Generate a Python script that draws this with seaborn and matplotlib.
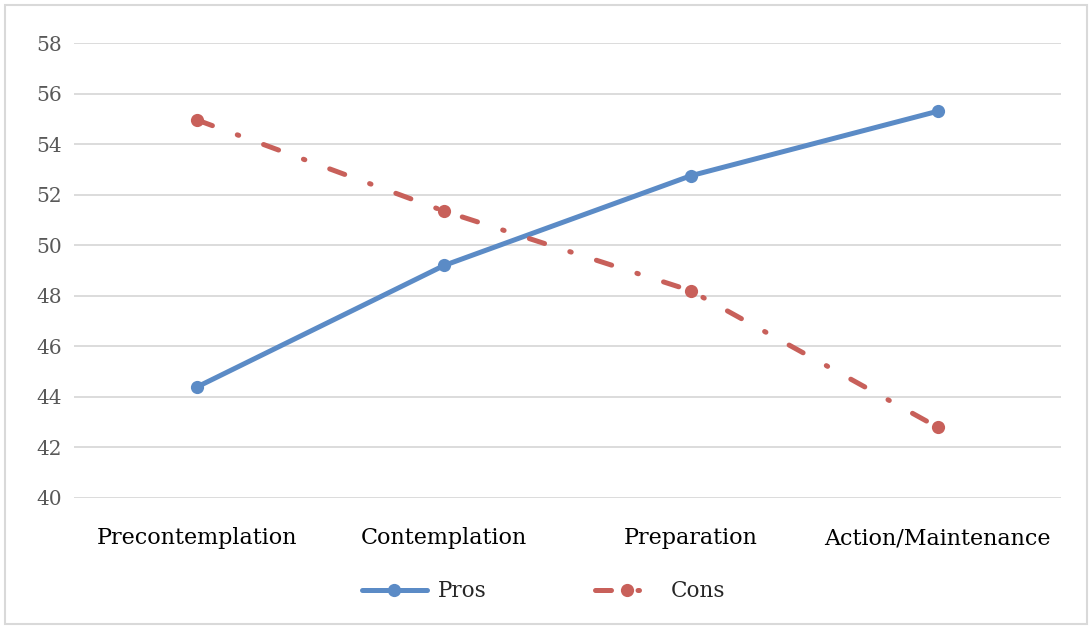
import pandas as pd
import matplotlib.pyplot as plt
import seaborn as sns
from matplotlib.patches import Rectangle
from matplotlib.lines import Line2D

# Stages of change and mean scores
stages = ["Precontemplation", "Contemplation", "Preparation", "Action/Maintenance"]
pros = [44.4, 49.2, 52.75, 55.3]
cons = [54.95, 51.35, 48.2, 42.8]

df = pd.DataFrame({
    "stage": stages * 2,
    "score": pros + cons,
    "series": ["Pros"] * 4 + ["Cons"] * 4,
})

sns.set_theme(style="white")
plt.rcParams["font.family"] = ["DejaVu Serif"]

fig = plt.figure(figsize=(10.92, 6.29), dpi=100)
ax = fig.add_axes([0.0678, 0.2083, 0.9038, 0.7233])

blue = "#5B8BC6"
red = "#C8605A"
cons_dash = (3.2, 5.3, 0.3, 5.3)

sns.lineplot(data=df, x="stage", y="score", hue="series", style="series",
             palette={"Pros": blue, "Cons": red},
             dashes={"Pros": "", "Cons": cons_dash},
             markers={"Pros": "o", "Cons": "o"},
             markersize=9.5, markeredgewidth=0, linewidth=3.6,
             ax=ax, legend=False)
for ln in ax.lines:
    ln.set_dash_capstyle("round")
    ln.set_solid_capstyle("round")

ax.set_ylim(40, 58)
ax.set_yticks(range(40, 59, 2))
ax.set_xlim(-0.5, 3.5)
ax.set_xlabel("")
ax.set_ylabel("")
ax.grid(axis="y", color="#d9d9d9", linewidth=1.3)
ax.grid(axis="x", visible=False)
for s in ax.spines.values():
    s.set_visible(False)
ax.tick_params(axis="y", labelsize=14.5, labelcolor="#595959", pad=9, length=0)
ax.tick_params(axis="x", labelsize=16, labelcolor="black", pad=21, length=0)

# legend
handles = [
    Line2D([], [], color=blue, linewidth=3.6, marker="o", markersize=9.5, markeredgewidth=0,
           solid_capstyle="round"),
    Line2D([], [], color=red, linewidth=3.6, marker="o", markersize=9.5, markeredgewidth=0,
           dashes=cons_dash, dash_capstyle="round"),
]
fig.legend(handles, ["Pros", "Cons"], loc="center", bbox_to_anchor=(0.498, 0.06),
           ncol=2, frameon=False, fontsize=15.5, handlelength=3.0, columnspacing=5.0,
           handletextpad=0.55)

# outer border
fig.patches.append(Rectangle((0.005, 0.008), 0.99, 0.984, transform=fig.transFigure,
                             fill=False, edgecolor="#d9d9d9", linewidth=1.5))

fig.savefig("out.png", dpi=100)
